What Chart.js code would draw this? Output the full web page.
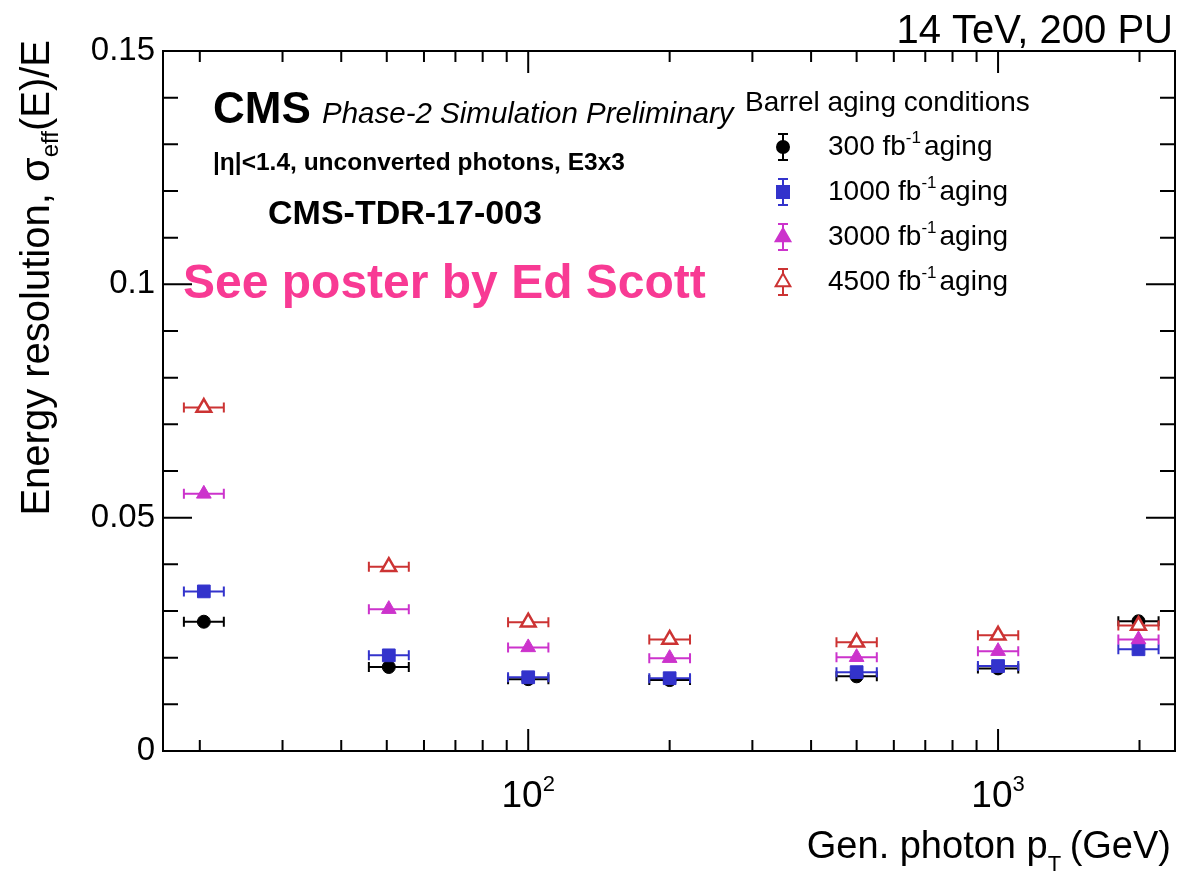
<!DOCTYPE html>
<html>
<head>
<meta charset="utf-8">
<script src="https://cdn.jsdelivr.net/npm/chart.js@4.4.1/dist/chart.umd.min.js"></script>
<style>
html, body { margin: 0; padding: 0; background: #fff; }
</style>
</head>
<body>
<canvas id="resChart" width="1181" height="871"></canvas>
<script>
// gen photon pT bins (GeV) and horizontal bar ends
const ptValues = [20.4, 50.5, 100, 200, 500, 1000, 1990];
const ptLow = [18.5, 45.8, 90.6, 181, 453, 906, 1803];
const ptHigh = [22.5, 55.7, 110.4, 221, 552, 1104, 2196];

// sigma_eff(E)/E for each aging scenario
const res300 = [0.0277, 0.0180, 0.0154, 0.0152, 0.0160, 0.0177, 0.0278];
const res1000 = [0.0342, 0.0205, 0.0158, 0.0156, 0.0169, 0.0182, 0.0218];
const res3000 = [0.0551, 0.0304, 0.0222, 0.0199, 0.0201, 0.0214, 0.0239];
const res4500 = [0.0736, 0.0395, 0.0276, 0.0239, 0.0233, 0.0248, 0.0269];

const lumiLabels = ['300', '1000', '3000', '4500'];
const yTickValues = [0, 0.05, 0.1, 0.15];
const xTickValues = [100, 1000];
const xMinorTicks = [20, 30, 40, 50, 60, 70, 80, 90, 200, 300, 400, 500, 600, 700, 800, 900, 2000];

const FONT = '"Liberation Sans", Arial, Helvetica, sans-serif';

function points(vals) {
    return ptValues.map((x, i) => ({ x: x, y: vals[i], xLow: ptLow[i], xHigh: ptHigh[i] }));
}

// draw a run of text pieces (sub/superscripts) starting at x
function richText(ctx, parts, x, y, align) {
    let total = 0;
    parts.forEach(p => { ctx.font = p.font; total += ctx.measureText(p.t).width + (p.gap || 0); });
    let cx = align === 'right' ? x - total : (align === 'center' ? x - total / 2 : x);
    ctx.textAlign = 'left';
    ctx.textBaseline = 'alphabetic';
    parts.forEach(p => {
        ctx.font = p.font;
        ctx.fillText(p.t, cx, y + (p.dy || 0));
        cx += ctx.measureText(p.t).width + (p.gap || 0);
    });
}

function drawMarker(ctx, style, x, y, color, hollow) {
    ctx.save();
    ctx.fillStyle = hollow ? '#fff' : color;
    ctx.strokeStyle = color;
    ctx.lineWidth = 2;
    ctx.beginPath();
    if (style === 'circle') {
        ctx.arc(x, y, 6, 0, Math.PI * 2);
    } else if (style === 'rect') {
        ctx.rect(x - 6, y - 6, 12, 12);
    } else {
        const r = 8.5;
        ctx.moveTo(x, y - r);
        ctx.lineTo(x + r * 0.866, y + r / 2);
        ctx.lineTo(x - r * 0.866, y + r / 2);
        ctx.closePath();
    }
    ctx.fill();
    ctx.stroke();
    ctx.restore();
}

const rootStyle = {
    id: 'rootStyle',
    beforeDatasetDraw(chart, args) {
        const ds = chart.data.datasets[args.index];
        const ctx = chart.ctx, xs = chart.scales.x, ys = chart.scales.y;
        ctx.save();
        ctx.strokeStyle = ds.borderColor;
        ctx.lineWidth = 2;
        ds.data.forEach(p => {
            const y = ys.getPixelForValue(p.y);
            const x1 = xs.getPixelForValue(p.xLow), x2 = xs.getPixelForValue(p.xHigh);
            ctx.beginPath();
            ctx.moveTo(x1, y); ctx.lineTo(x2, y);
            ctx.moveTo(x1, y - 5); ctx.lineTo(x1, y + 5);
            ctx.moveTo(x2, y - 5); ctx.lineTo(x2, y + 5);
            ctx.stroke();
        });
        ctx.restore();
    },
    afterDraw(chart) {
        const ctx = chart.ctx, a = chart.chartArea;
        const xs = chart.scales.x, ys = chart.scales.y;
        ctx.save();
        ctx.strokeStyle = '#000';
        ctx.lineWidth = 2;
        ctx.strokeRect(a.left, a.top, a.right - a.left, a.bottom - a.top);

        // y ticks, inside the frame on both sides
        ctx.beginPath();
        for (let k = 0; k <= 15; k++) {
            const y = ys.getPixelForValue(k / 100);
            const len = k % 5 === 0 ? 29 : 15;
            ctx.moveTo(a.left, y); ctx.lineTo(a.left + len, y);
            ctx.moveTo(a.right, y); ctx.lineTo(a.right - len, y);
        }
        // x ticks, bottom and top
        xMinorTicks.forEach(v => {
            const x = xs.getPixelForValue(v);
            ctx.moveTo(x, a.bottom); ctx.lineTo(x, a.bottom - 11);
            ctx.moveTo(x, a.top); ctx.lineTo(x, a.top + 11);
        });
        xTickValues.forEach(v => {
            const x = xs.getPixelForValue(v);
            ctx.moveTo(x, a.bottom); ctx.lineTo(x, a.bottom - 22);
            ctx.moveTo(x, a.top); ctx.lineTo(x, a.top + 22);
        });
        ctx.stroke();

        ctx.fillStyle = '#000';
        // x tick labels 10^2, 10^3
        xTickValues.forEach(v => {
            const x = xs.getPixelForValue(v);
            richText(ctx, [
                { t: '10', font: '37px ' + FONT },
                { t: String(Math.round(Math.log10(v))), font: '22px ' + FONT, dy: -16 }
            ], x, 807, 'center');
        });

        // axis titles
        richText(ctx, [
            { t: 'Gen. photon p', font: '38px ' + FONT },
            { t: 'T', font: '22px ' + FONT, dy: 13, gap: -2 },
            { t: ' (GeV)', font: '38px ' + FONT }
        ], 1171, 858, 'right');

        ctx.save();
        ctx.translate(49, 40);
        ctx.rotate(-Math.PI / 2);
        richText(ctx, [
            { t: 'Energy resolution, \u03c3', font: '40px ' + FONT },
            { t: 'eff', font: '24px ' + FONT, dy: 9 },
            { t: '(E)/E', font: '40px ' + FONT }
        ], 0, 0, 'right');
        ctx.restore();

        richText(ctx, [{ t: '14 TeV, 200 PU', font: '40px ' + FONT }], 1173, 43, 'right');

        // CMS labels
        richText(ctx, [{ t: 'CMS', font: 'bold 44px ' + FONT }], 213, 123, 'left');
        richText(ctx, [{ t: 'Phase-2 Simulation Preliminary', font: 'italic 29.5px ' + FONT }], 322, 123, 'left');
        richText(ctx, [{ t: '|\u03b7|<1.4, unconverted photons, E3x3', font: 'bold 24.5px ' + FONT }], 213, 170, 'left');
        richText(ctx, [{ t: 'CMS-TDR-17-003', font: 'bold 34px ' + FONT }], 268, 224, 'left');
        ctx.fillStyle = '#f83a94';
        richText(ctx, [{ t: 'See poster by Ed Scott', font: 'bold 48px ' + FONT }], 183, 298, 'left');

        // legend
        ctx.fillStyle = '#000';
        richText(ctx, [{ t: 'Barrel aging conditions', font: '28px ' + FONT }], 745, 111, 'left');
        chart.data.datasets.forEach((ds, i) => {
            const base = 155 + i * 45;
            const my = base - 8, mx = 783;
            ctx.strokeStyle = ds.borderColor;
            ctx.lineWidth = 2;
            ctx.beginPath();
            ctx.moveTo(mx, my - 13); ctx.lineTo(mx, my + 13);
            ctx.moveTo(mx - 5, my - 13); ctx.lineTo(mx + 5, my - 13);
            ctx.moveTo(mx - 5, my + 13); ctx.lineTo(mx + 5, my + 13);
            ctx.stroke();
            drawMarker(ctx, ds.pointStyle, mx, my, ds.borderColor, ds.backgroundColor === '#ffffff');
            ctx.fillStyle = '#000';
            richText(ctx, [
                { t: lumiLabels[i] + ' fb', font: '28px ' + FONT },
                { t: '-1', font: '17px ' + FONT, dy: -12, gap: 3 },
                { t: 'aging', font: '28px ' + FONT }
            ], 828, base, 'left');
        });
        ctx.restore();
    }
};

const ctx = document.getElementById('resChart').getContext('2d');
new Chart(ctx, {
    type: 'scatter',
    data: {
        datasets: [
            { label: '300', data: points(res300), pointStyle: 'circle', pointRadius: 6.5,
              backgroundColor: '#000000', borderColor: '#000000', borderWidth: 1, order: 4 },
            { label: '1000', data: points(res1000), pointStyle: 'rect', pointRadius: 9,
              backgroundColor: '#3333cc', borderColor: '#3333cc', borderWidth: 1, order: 3 },
            { label: '3000', data: points(res3000), pointStyle: 'triangle', pointRadius: 8.5,
              backgroundColor: '#cc33cc', borderColor: '#cc33cc', borderWidth: 1, order: 2 },
            { label: '4500', data: points(res4500), pointStyle: 'triangle', pointRadius: 8.5,
              backgroundColor: '#ffffff', borderColor: '#cc3333', borderWidth: 2.5, order: 1 }
        ]
    },
    options: {
        responsive: false,
        animation: false,
        devicePixelRatio: 1,
        layout: { autoPadding: false, padding: { top: 51, right: 6, left: 0, bottom: 0 } },
        plugins: { legend: { display: false }, tooltip: { enabled: false } },
        scales: {
            x: {
                type: 'logarithmic',
                min: 16.7,
                max: 2380,
                grid: { display: false, drawTicks: false },
                border: { display: false },
                ticks: { display: false },
                afterFit: s => { s.height = 120; }
            },
            y: {
                min: 0,
                max: 0.15,
                grid: { display: false, drawTicks: false },
                border: { display: false },
                afterBuildTicks: s => { s.ticks = yTickValues.map(v => ({ value: v })); },
                ticks: {
                    padding: 8,
                    color: '#000',
                    font: { family: FONT, size: 33 },
                    callback: v => String(Number(v.toFixed(2)))
                },
                afterFit: s => { s.width = 163; }
            }
        }
    },
    plugins: [rootStyle]
});
</script>
</body>
</html>
